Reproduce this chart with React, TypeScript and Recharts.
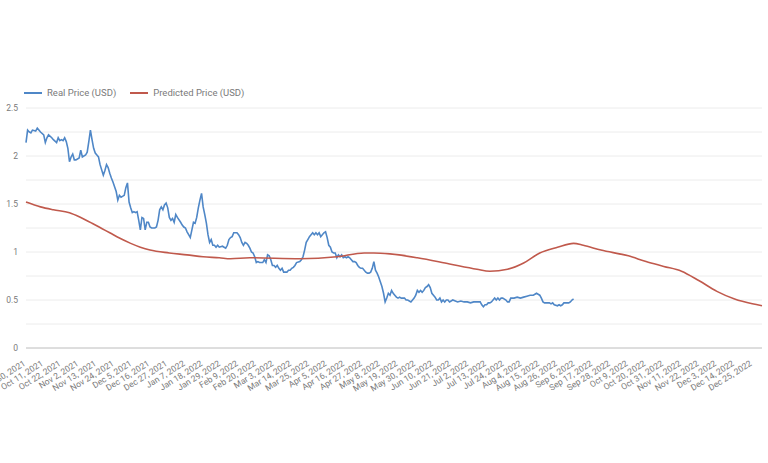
import React from "react";
import { LineChart, Line, XAxis, YAxis, CartesianGrid } from "recharts";

// day offsets are counted from Sep 30, 2021
const tickLabels = [
  "Sep 30, 2021", "Oct 11, 2021", "Oct 22, 2021", "Nov 2, 2021", "Nov 13, 2021", "Nov 24, 2021",
  "Dec 5, 2021", "Dec 16, 2021", "Dec 27, 2021", "Jan 7, 2022", "Jan 18, 2022", "Jan 29, 2022",
  "Feb 9, 2022", "Feb 20, 2022", "Mar 3, 2022", "Mar 14, 2022", "Mar 25, 2022", "Apr 5, 2022",
  "Apr 16, 2022", "Apr 27, 2022", "May 8, 2022", "May 19, 2022", "May 30, 2022", "Jun 10, 2022",
  "Jun 21, 2022", "Jul 2, 2022", "Jul 13, 2022", "Jul 24, 2022", "Aug 4, 2022", "Aug 15, 2022",
  "Aug 26, 2022", "Sep 6, 2022", "Sep 17, 2022", "Sep 28, 2022", "Oct 9, 2022", "Oct 20, 2022",
  "Oct 31, 2022", "Nov 11, 2022", "Nov 22, 2022", "Dec 3, 2022", "Dec 14, 2022", "Dec 25, 2022",
];
const TICK_STEP = 11;
const LAST_DAY = 457;

const yTicks = [0, 0.25, 0.5, 0.75, 1, 1.25, 1.5, 1.75, 2, 2.25, 2.5];

const realDays = [
  0, 1, 2, 3, 4, 6, 7, 8, 9, 11, 12, 13, 14, 16, 17, 19, 20, 21, 22, 23, 24, 25, 26, 27, 28, 29,
  30, 31, 33, 34, 35, 37, 38, 39, 40, 41, 42, 43, 44, 45, 46, 48, 49, 50, 51, 52, 53, 54, 55, 56,
  57, 58, 59, 61, 62, 63, 64, 65, 66, 67, 68, 69, 70, 71, 72, 73, 74, 75, 76, 77, 78, 80, 81, 82,
  83, 84, 85, 86, 87, 88, 89, 90, 91, 92, 93, 94, 96, 97, 98, 99, 100, 101, 102, 103, 104, 105,
  106, 107, 108, 109, 110, 111, 112, 113, 114, 115, 116, 117, 118, 119, 120, 122, 123, 124, 125,
  126, 127, 128, 129, 130, 131, 132, 133, 134, 135, 136, 137, 138, 139, 140, 141, 142, 143, 144,
  145, 146, 147, 148, 149, 150, 151, 152, 153, 154, 155, 156, 157, 158, 159, 160, 161, 162, 163,
  164, 165, 166, 167, 168, 170, 171, 172, 173, 174, 175, 176, 177, 178, 179, 180, 181, 182, 183,
  185, 186, 187, 188, 189, 190, 191, 192, 193, 194, 195, 196, 197, 198, 199, 200, 201, 202, 203,
  204, 205, 206, 207, 208, 209, 211, 212, 213, 214, 215, 216, 217, 218, 219, 220, 221, 222, 223,
  224, 225, 226, 227, 228, 229, 230, 231, 232, 233, 234, 235, 236, 237, 239, 240, 241, 242, 243,
  244, 245, 246, 247, 248, 249, 250, 251, 252, 253, 254, 255, 256, 257, 258, 259, 260, 261, 262,
  263, 265, 268, 270, 272, 274, 276, 278, 280, 282, 283, 284, 285, 286, 287, 288, 289, 290, 291,
  292, 293, 294, 295, 296, 298, 299, 300, 301, 302, 303, 305, 307, 309, 311, 313, 315, 316, 317,
  318, 319, 320, 321, 322, 323, 325, 326, 327, 328, 330, 331, 332, 333, 334, 335, 336, 337, 338,
  339, 340,
];
const realPrice = [
  2.14, 2.27, 2.25, 2.24, 2.27, 2.26, 2.29, 2.27, 2.25, 2.22, 2.14, 2.19, 2.22, 2.19, 2.17, 2.14,
  2.19, 2.16, 2.17, 2.16, 2.19, 2.15, 2.08, 1.94, 1.99, 2.02, 1.96, 1.96, 1.98, 2.06, 1.99, 2.01,
  2.04, 2.15, 2.27, 2.17, 2.08, 2.03, 2.01, 1.99, 1.91, 1.8, 1.85, 1.91, 1.88, 1.82, 1.77, 1.73,
  1.68, 1.63, 1.54, 1.59, 1.57, 1.59, 1.67, 1.72, 1.52, 1.46, 1.41, 1.42, 1.41, 1.42, 1.33, 1.23,
  1.36, 1.35, 1.23, 1.31, 1.31, 1.26, 1.25, 1.25, 1.26, 1.33, 1.44, 1.47, 1.44, 1.49, 1.51, 1.46,
  1.36, 1.33, 1.35, 1.31, 1.39, 1.36, 1.31, 1.28, 1.26, 1.25, 1.21, 1.18, 1.15, 1.23, 1.31, 1.3,
  1.36, 1.46, 1.54, 1.61, 1.47, 1.39, 1.3, 1.18, 1.1, 1.13, 1.07, 1.07, 1.05, 1.07, 1.05, 1.06,
  1.05, 1.04, 1.07, 1.13, 1.15, 1.16, 1.2, 1.2, 1.2, 1.18, 1.15, 1.1, 1.07, 1.1, 1.09, 1.07, 1.04,
  1.0, 0.99, 0.95, 0.89, 0.9, 0.89, 0.89, 0.89, 0.92, 0.89, 0.97, 0.96, 0.92, 0.86, 0.86, 0.84,
  0.86, 0.83, 0.81, 0.83, 0.79, 0.79, 0.79, 0.81, 0.81, 0.83, 0.84, 0.86, 0.89, 0.9, 0.92, 0.95,
  1.02, 1.1, 1.13, 1.16, 1.18, 1.2, 1.18, 1.2, 1.18, 1.2, 1.16, 1.2, 1.21, 1.15, 1.07, 1.05, 1.0,
  0.99, 0.99, 0.94, 0.97, 0.95, 0.97, 0.94, 0.95, 0.94, 0.95, 0.94, 0.92, 0.9, 0.9, 0.89, 0.86,
  0.84, 0.83, 0.83, 0.79, 0.78, 0.78, 0.79, 0.83, 0.9, 0.81, 0.78, 0.74, 0.69, 0.64, 0.57, 0.48,
  0.52, 0.57, 0.55, 0.6, 0.57, 0.55, 0.53, 0.52, 0.53, 0.52, 0.52, 0.52, 0.5, 0.5, 0.48, 0.5,
  0.52, 0.55, 0.6, 0.58, 0.6, 0.58, 0.6, 0.63, 0.64, 0.66, 0.63, 0.57, 0.55, 0.53, 0.5, 0.5, 0.52,
  0.48, 0.5, 0.48, 0.5, 0.5, 0.48, 0.5, 0.48, 0.49, 0.48, 0.48, 0.47, 0.48, 0.48, 0.48, 0.45,
  0.43, 0.45, 0.45, 0.47, 0.47, 0.48, 0.5, 0.52, 0.5, 0.52, 0.5, 0.52, 0.52, 0.5, 0.48, 0.48,
  0.52, 0.52, 0.52, 0.53, 0.52, 0.53, 0.54, 0.55, 0.55, 0.56, 0.57, 0.56, 0.55, 0.52, 0.48, 0.47,
  0.47, 0.47, 0.46, 0.47, 0.45, 0.44, 0.45, 0.44, 0.45, 0.47, 0.47, 0.47, 0.47, 0.48, 0.5, 0.51,
];

const predDays = [
  0, 9, 17, 27, 34, 41, 47, 52, 58, 65, 71, 77, 89, 100, 110, 120, 127, 139, 170, 193, 210, 216,
  226, 243, 263, 280, 288, 299, 309, 319, 330, 340, 346, 357, 374, 385, 396, 407, 418, 429, 440,
  451, 457,
];
const predPrice = [
  1.52, 1.47, 1.44, 1.41, 1.36, 1.3, 1.245, 1.2, 1.145, 1.09, 1.05, 1.02, 0.99, 0.97, 0.95, 0.94,
  0.93, 0.94, 0.93, 0.95, 0.99, 0.99, 0.98, 0.94, 0.875, 0.82, 0.8, 0.82, 0.885, 0.99, 1.05, 1.09,
  1.07, 1.02, 0.96, 0.9, 0.85, 0.8, 0.7, 0.59, 0.51, 0.46, 0.44,
];

const realData = realDays.map((day, i) => ({ day, real: realPrice[i] }));
const predData = predDays.map((day, i) => ({ day, pred: predPrice[i] }));
const xTicks = tickLabels.map((_, i) => i * TICK_STEP);

const BLUE = "#4f87c7";
const RED = "#c0594c";
const TEXT = "#7a7a7a";
const FONT = "Roboto, sans-serif";

function DateTick({ x, y, payload }: any) {
  const label = tickLabels[Math.round(payload.value / TICK_STEP)];
  return (
    <g transform={`translate(${x},${y + 9})`}>
      <text textAnchor="end" transform="rotate(-32)" fill={TEXT} fontSize={8.5} fontFamily={FONT}>
        {label}
      </text>
    </g>
  );
}

function LegendItem({ color, label }: { color: string; label: string }) {
  return (
    <span style={{ display: "inline-flex", alignItems: "center", marginRight: 14 }}>
      <span style={{ width: 18, height: 2, background: color, marginRight: 5 }} />
      <span style={{ color: TEXT }}>{label}</span>
    </span>
  );
}

export default function App() {
  return (
    <div style={{ position: "absolute", left: 0, top: 0, width: 768, height: 463, background: "#fff" }}>
      <div
        style={{
          position: "absolute",
          left: 24,
          top: 87,
          fontFamily: FONT,
          fontSize: 9.5,
          display: "flex",
          whiteSpace: "nowrap",
        }}
      >
        <LegendItem color={BLUE} label="Real Price (USD)" />
        <LegendItem color={RED} label="Predicted Price (USD)" />
      </div>
      <LineChart width={768} height={463} margin={{ top: 108, right: 6, left: 0, bottom: 55 }}>
        <CartesianGrid vertical={false} stroke="#ececec" />
        <XAxis
          type="number"
          dataKey="day"
          domain={[0, LAST_DAY]}
          ticks={xTicks}
          interval={0}
          height={60}
          tickLine={false}
          axisLine={{ stroke: "#c6c6c6" }}
          tick={<DateTick />}
        />
        <YAxis
          type="number"
          domain={[0, 2.5]}
          ticks={yTicks}
          interval={0}
          width={26}
          axisLine={false}
          tickLine={false}
          tick={{ fill: TEXT, fontSize: 8.5, fontFamily: FONT }}
          tickFormatter={(v: number) => (v % 0.5 === 0 ? String(v) : "")}
        />
        <Line
          data={realData}
          dataKey="real"
          type="linear"
          stroke={BLUE}
          strokeWidth={1.6}
          dot={false}
          isAnimationActive={false}
        />
        <Line
          data={predData}
          dataKey="pred"
          type="monotone"
          stroke={RED}
          strokeWidth={1.6}
          dot={false}
          isAnimationActive={false}
        />
      </LineChart>
    </div>
  );
}
